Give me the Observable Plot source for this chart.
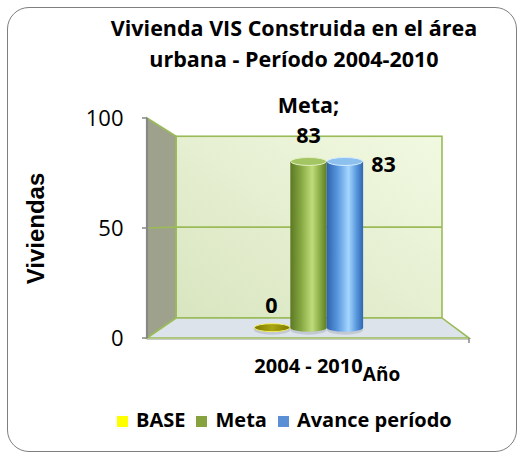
<!DOCTYPE html>
<html>
<head>
<meta charset="utf-8">
<script src="https://cdn.jsdelivr.net/npm/d3@7"></script>
<script src="https://cdn.jsdelivr.net/npm/@observablehq/plot@0.6"></script>
<style>
  html, body { margin: 0; padding: 0; background: #fff; }
  #wrap { position: relative; width: 524px; height: 456px; overflow: hidden; font-family: "Open Sans", sans-serif; }
  #chart { position: absolute; left: 0; top: 0; }
  #border { position: absolute; left: 7px; top: 7px; width: 510px; height: 445px; border: 1.5px solid #7f7f7f; border-radius: 22px; box-sizing: border-box; pointer-events: none; }
  #title { position: absolute; left: 64px; width: 460px; top: 11.9px; text-align: center; font-weight: bold; font-size: 21.5px; line-height: 31px; color: #000; }
  #legend { position: absolute; left: 117px; top: 406px; display: flex; align-items: center; font-weight: bold; font-size: 20px; line-height: 28px; color: #000; white-space: nowrap; }
  #legend .item { display: flex; align-items: center; margin-right: 11px; }
  #legend .sw { width: 11px; height: 11px; margin-right: 8px; margin-top: 2px; box-shadow: 0 0 0 1px #fff, 0 0 1px 1px #e8e8e8; }
</style>
</head>
<body>
<div id="wrap">
  <div id="chart"></div>
  <div id="title"></div>
  <div id="legend"></div>
  <div id="border"></div>
</div>
<script>
// ---- data ----
const titleLines = ["Vivienda VIS Construida en el área", "urbana - Período 2004-2010"];
const categories = ["2004 - 2010"];
const series = ["BASE", "Meta", "Avance período"];
const values = [0, 83, 83];
const seriesColors = ["#ffff00", "#86a23e", "#5a8fd6"];
const yTicks = [0, 50, 100];
const yTitle = "Viviendas";
const xTitle = "Año";

// ---- look ----
const DEPTH_BACK = 0.826, DEPTH_BAR = 0.91, VPX = 0.518, VPY = 0.477;
const GREEN = "#9bbb59";

const labels = series.map((s, i) => i === 1 ? `${s};\n${values[i]}` : `${values[i]}`);
const idx = d3.range(series.length);

function scene(index, scales, vals, dims) {
  const {x, y} = scales;
  const L = dims.marginLeft, R = dims.width - dims.marginRight;
  const T = dims.marginTop, B = dims.height - dims.marginBottom;
  const vx = L + (R - L) * VPX, vy = T + (B - T) * VPY;
  const P = (px, py, s) => [vx + (px - vx) * s, vy + (py - vy) * s];
  const y0 = y(0), yMax = y(d3.max(yTicks));
  const sb = DEPTH_BACK;
  const g = d3.create("svg:g");
  const defs = g.append("defs");
  const lin = (id, stops, x2 = 1, y2 = 0, x1 = 0, y1 = 0) => {
    const lg = defs.append("linearGradient").attr("id", id)
      .attr("x1", x1).attr("y1", y1).attr("x2", x2).attr("y2", y2);
    stops.forEach(([o, c]) => lg.append("stop").attr("offset", o).attr("stop-color", c));
  };
  lin("wallG", [[0, "#d9e5c0"], [1, "#f2f9e2"]], 1, 0, 0, 1);
  lin("barG1", [[0, "#5c7824"], [0.3, "#86a842"], [0.6, "#c0dc7c"], [0.82, "#88aa44"], [1, "#5d7b26"]]);
  lin("barG2", [[0, "#2d63ad"], [0.3, "#5997de"], [0.6, "#a4d6ff"], [0.82, "#5896dc"], [1, "#2f66b0"]]);
  lin("barG0", [[0, "#7d7a00"], [0.5, "#a9a512"], [1, "#7d7a00"]]);
  const capFill = ["#9c9800", "#a4c563", "#8cc0ef"];
  const capStroke = ["#f2ee6a", "#e2f0c0", "#d6ecff"];

  const poly = (pts) => "M" + pts.map(p => p.join(",")).join("L") + "Z";
  // back wall
  const bw0 = P(L, yMax, sb), bw1 = P(R, y0, sb);
  g.append("rect").attr("x", bw0[0]).attr("y", bw0[1])
    .attr("width", bw1[0] - bw0[0]).attr("height", bw1[1] - bw0[1])
    .attr("fill", "url(#wallG)").attr("stroke", GREEN).attr("stroke-width", 1.6);
  // side wall
  g.append("path").attr("d", poly([[L, y0], [L, yMax], P(L, yMax, sb), P(L, y0, sb)]))
    .attr("fill", "#9ea28c").attr("stroke", GREEN).attr("stroke-width", 1.6);
  // gridlines
  for (const t of yTicks) {
    if (t === 0 || t === d3.max(yTicks)) continue;
    const a = P(L, y(t), sb), b = P(R, y(t), sb);
    g.append("line").attr("x1", a[0]).attr("y1", a[1]).attr("x2", b[0]).attr("y2", b[1])
      .attr("stroke", GREEN).attr("stroke-width", 1.6);
    g.append("line").attr("x1", L).attr("y1", y(t)).attr("x2", a[0]).attr("y2", a[1])
      .attr("stroke", GREEN).attr("stroke-width", 1.6);
  }
  // floor
  g.append("path").attr("d", poly([[L, y0], [R, y0], P(R, y0, sb), P(L, y0, sb)]))
    .attr("fill", "#dce3eb").attr("stroke", GREEN).attr("stroke-width", 1.6);
  // axis lines and ticks
  g.append("line").attr("x1", L).attr("x2", L).attr("y1", yMax).attr("y2", y0)
    .attr("stroke", "#878787").attr("stroke-width", 2.2);
  for (const t of yTicks) {
    g.append("line").attr("x1", L - 5).attr("x2", L).attr("y1", y(t)).attr("y2", y(t))
      .attr("stroke", "#878787").attr("stroke-width", 1.5);
  }
  g.append("line").attr("x1", L).attr("x2", R).attr("y1", y0 + 1.5).attr("y2", y0 + 1.5)
    .attr("stroke", "#c8c8c8").attr("stroke-width", 1);
  g.append("line").attr("x1", R).attr("x2", R).attr("y1", y0).attr("y2", y0 + 5)
    .attr("stroke", "#878787").attr("stroke-width", 1.5);

  // cylinders
  const bwid = x.bandwidth ? x.bandwidth() : 0;
  series.forEach((s, i) => {
    const xa = x(s), xb = xa + bwid;
    const [X1, Yb] = P(xa, y(0), DEPTH_BAR);
    const [X2, Yt] = P(xb, y(values[i]), DEPTH_BAR);
    const cx = (X1 + X2) / 2, rx = (X2 - X1) / 2, ry = 4;
    g.append("ellipse").attr("cx", cx).attr("cy", Yb + 2).attr("rx", rx).attr("ry", 5)
      .attr("fill", "#aeb5bf").attr("opacity", 0.55);
    if (Yb - Yt > 0.5) {
      g.append("path")
        .attr("d", `M${X1},${Yt}L${X1},${Yb}A${rx},${ry} 0 0 0 ${X2},${Yb}L${X2},${Yt}Z`)
        .attr("fill", `url(#barG${i})`);
    }
    g.append("ellipse").attr("cx", cx).attr("cy", Yt).attr("rx", rx - 0.5).attr("ry", ry)
      .attr("fill", Yb - Yt > 0.5 ? capFill[i] : "url(#barG0)")
      .attr("stroke", capStroke[i]).attr("stroke-width", 1);
  });
  return g.node();
}

const labelFont = {fontWeight: "bold", fontSize: 21.5, lineAnchor: "bottom", lineHeight: 1.35};
const chart = Plot.plot({
  width: 524,
  height: 456,
  marginLeft: 147,
  marginRight: 55,
  marginTop: 118,
  marginBottom: 118,
  style: {background: "transparent", fontFamily: "'Open Sans', sans-serif", fontSize: "22px", color: "#000", overflow: "visible"},
  x: {type: "band", domain: series, paddingInner: 0, paddingOuter: 2.52, axis: null},
  y: {domain: [0, d3.max(yTicks)], axis: null},
  marks: [
    scene,
    Plot.text(yTicks, {y: d => d, text: d => String(d), frameAnchor: "left", dx: -24, textAnchor: "end", lineAnchor: "middle", fontSize: 22}),
    Plot.text(idx, {filter: i => i === 0, x: i => series[i], y: i => values[i], text: i => labels[i], dx: 3, dy: -26, ...labelFont}),
    Plot.text(idx, {filter: i => i === 1, x: i => series[i], y: i => values[i], text: i => labels[i], dx: 0, dy: -13.4, ...labelFont}),
    Plot.text(idx, {filter: i => i === 2, x: i => series[i], y: i => values[i], text: i => labels[i], dx: 35, dy: 16.3, ...labelFont}),
    Plot.text(categories, {text: d => d, frameAnchor: "bottom", dy: 34, lineAnchor: "bottom", fontWeight: "bold", fontSize: 20}),
    Plot.text([xTitle], {text: d => d, frameAnchor: "bottom", dx: 73, dy: 42, lineAnchor: "bottom", fontWeight: "bold", fontSize: 19}),
    Plot.text([yTitle], {text: d => d, frameAnchor: "left", rotate: -90, dx: -104, textAnchor: "middle", lineAnchor: "bottom", fontSize: 24, fontWeight: "bold", fontFamily: "'Liberation Sans', Arial, sans-serif"})
  ]
});
document.getElementById("chart").appendChild(chart);

document.getElementById("title").innerHTML = titleLines.join("<br>");
const legend = d3.select("#legend");
series.forEach((s, i) => {
  const it = legend.append("div").attr("class", "item");
  it.append("div").attr("class", "sw").style("background", seriesColors[i]);
  it.append("span").text(s);
});
</script>
</body>
</html>
